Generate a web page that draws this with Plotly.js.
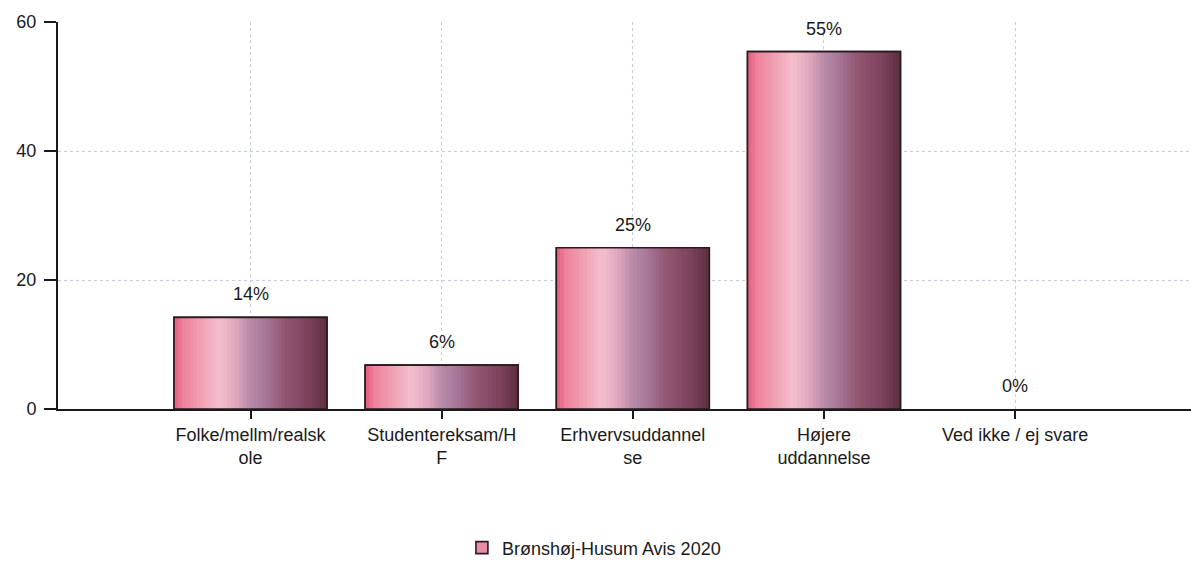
<!DOCTYPE html>
<html><head><meta charset="utf-8">
<script src="https://cdn.plot.ly/plotly-3.0.1.min.js"></script>
<style>html,body{margin:0;padding:0;background:#fff;}#chart{width:1191px;height:561px;}</style>
</head><body><div id="chart"></div>
<script>
const categories = ["Folke/mellm/realsk<br>ole", "Studentereksam/H<br>F", "Erhvervsuddannel<br>se", "Højere<br>uddannelse", "Ved ikke / ej svare"];
const values = [14.2, 6.8, 25.0, 55.4, 0];
const valueLabels = ["14%", "6%", "25%", "55%", "0%"];
const seriesName = "Brønshøj-Husum Avis 2020";

// gradient colour stops across the bar width (fraction, colour)
const gradStops = [[0.0,[228,92,124]],[0.06,[238,130,156]],[0.30,[243,192,204]],[0.40,[226,168,190]],[0.50,[184,138,168]],[0.60,[166,118,152]],[0.72,[146,86,114]],[0.88,[124,66,90]],[1.0,[92,48,64]]];

const BAR_W = 0.8, N = 40;
function colAt(f){
  for(let i=1;i<gradStops.length;i++){
    if(f<=gradStops[i][0]){
      const a=gradStops[i-1], b=gradStops[i];
      const t=(f-a[0])/(b[0]-a[0]);
      const c=a[1].map((v,k)=>Math.round(v+(b[1][k]-v)*t));
      return 'rgb('+c.join(',')+')';
    }
  }
  return 'rgb('+gradStops[gradStops.length-1][1].join(',')+')';
}
const FONT = "Liberation Sans, Arial, sans-serif";
const FS = 18;
const outlineW = values.map(v => v > 0 ? 1.6 : 0);
const traces = [];
// base layer used for legend
traces.push({type:'bar', x:categories, y:values, name:seriesName, width:BAR_W,
  marker:{color:'#ea8ea8', line:{color:'#2a1a20', width:outlineW}}, showlegend:true, hoverinfo:'skip'});
const sw = BAR_W/N;
for(let i=0;i<N;i++){
  traces.push({type:'bar', x:categories, y:values, width:sw*1.15, offset:-BAR_W/2+i*sw,
    marker:{color:colAt((i+0.5)/N), line:{width:0}}, showlegend:false, hoverinfo:'skip'});
}
traces.push({type:'bar', x:categories, y:values, width:BAR_W,
  marker:{color:'rgba(0,0,0,0)', line:{color:'#2a1a20', width:outlineW}}, showlegend:false, hoverinfo:'skip'});

const annotations = categories.map((c,i)=>({x:c, y:values[i], text:valueLabels[i], showarrow:false,
  yanchor:'bottom', yshift:11, font:{family:FONT, size:FS, color:'#1a1a1a'}}));

const layout = {
  width:1191, height:561,
  margin:{l:58, r:0, t:22, b:152, autoexpand:false},
  paper_bgcolor:'#ffffff', plot_bgcolor:'#ffffff',
  barmode:'overlay', bargap:0.2,
  font:{family:FONT, size:FS, color:'#1a1a1a'},
  xaxis:{type:'category', range:[-1.007, 4.92], showgrid:true, gridcolor:'#c5cede', griddash:'dot', gridwidth:1,
    showline:true, linecolor:'#1a1a1a', linewidth:2, ticks:'outside', ticklen:8, tickwidth:2, tickcolor:'#1a1a1a',
    tickfont:{family:FONT, size:FS, color:'#1a1a1a'}, zeroline:false, fixedrange:true, automargin:false},
  yaxis:{range:[0,60], tickvals:[0,20,40,60], showgrid:true, gridcolor:'#c5cede', griddash:'dot', gridwidth:1,
    showline:true, linecolor:'#1a1a1a', linewidth:2, ticks:'outside', ticklen:12, tickwidth:1.5, tickcolor:'#1a1a1a',
    tickfont:{family:FONT, size:FS, color:'#1a1a1a'}, zeroline:false, ticklabelstandoff:4, automargin:false},
  showlegend:true,
  legend:{orientation:'h', x:0.473, xanchor:'center', y:-0.359, yanchor:'middle', font:{family:FONT, size:FS, color:'#1a1a1a'}, bgcolor:'rgba(0,0,0,0)'},
  annotations: annotations
};
Plotly.newPlot('chart', traces, layout, {displayModeBar:false, staticPlot:true});
</script></body></html>
